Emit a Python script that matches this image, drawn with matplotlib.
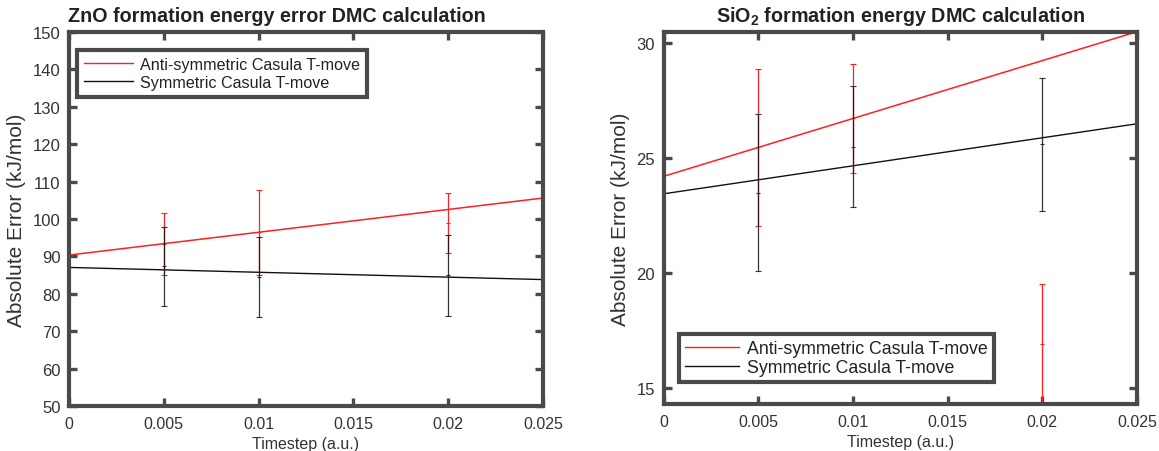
import numpy as np
import matplotlib
matplotlib.use("Agg")
import matplotlib.pyplot as plt
from matplotlib.lines import Line2D

plt.rcParams['font.family'] = ['Liberation Sans', 'DejaVu Sans']
plt.rcParams['mathtext.fontset'] = 'custom'
plt.rcParams['mathtext.rm'] = 'Liberation Sans'
plt.rcParams['mathtext.bf'] = 'Liberation Sans:bold'

# ---- data ----
timestep = [0.005, 0.01, 0.02]

zno_anti = [93.4, 96.45, 98.95]
zno_anti_err = [8.3, 11.35, 8.0]
zno_sym = [87.3, 84.4, 84.9]
zno_sym_err = [10.5, 10.7, 10.8]

sio2_anti = [25.46, 26.72, 16.91]
sio2_anti_err = [3.43, 2.38, 2.62]
sio2_sym = [23.49, 25.5, 25.6]
sio2_sym_err = [3.41, 2.63, 2.89]

# number of leading points used in the anti-symmetric fit (outlier at 0.02 left out)
anti_fit_points = 2

xticks = [0, 0.005, 0.01, 0.015, 0.02, 0.025]
xticklabels = ['0', '0.005', '0.01', '0.015', '0.02', '0.025']
zno_yticks = list(range(50, 151, 10))
sio2_yticks = [15, 20, 25, 30]
xlim = (0, 0.025)
zno_ylim = (50, 150)

labels = ['Anti-symmetric Casula T-move', 'Symmetric Casula T-move']
titles = ['ZnO formation energy error DMC calculation',
          r'SiO$_\mathbf{2}$ formation energy DMC calculation']
xlabel = 'Timestep (a.u.)'
ylabel = 'Absolute Error (kJ/mol)'

# ---- styling ----
BOX = '#4a4a4a'
TXT = '#333333'
RED = '#ff2020'
BLK = '#111111'

fig = plt.figure(figsize=(11.59, 4.52), dpi=100)
ax1 = fig.add_axes([0.0595, 0.0996, 0.409, 0.8274])
ax2 = fig.add_axes([0.5725, 0.104, 0.4085, 0.8237])

xs = np.array(timestep)
xfit = np.array(xlim)


def draw(ax, anti, anti_err, sym, sym_err):
    pa = np.polyfit(xs[:anti_fit_points], np.array(anti)[:anti_fit_points], 1)
    ps = np.polyfit(xs, np.array(sym), 1)
    ax.plot(xfit, np.polyval(pa, xfit), color=RED, lw=1.1, zorder=3, clip_on=False)
    ax.plot(xfit, np.polyval(ps, xfit), color=BLK, lw=1.0, zorder=3, clip_on=False)
    ax.errorbar(xs, anti, yerr=anti_err, fmt='_', ms=3, mew=0.8, color=RED,
                ecolor=RED, elinewidth=0.9, capsize=2.2, capthick=0.9, zorder=4,
                clip_on=False)
    ax.errorbar(xs, sym, yerr=sym_err, fmt='_', ms=3, mew=0.8, color=BLK,
                ecolor=BLK, elinewidth=0.9, capsize=2.2, capthick=0.9, zorder=5,
                alpha=0.85, clip_on=False)
    return pa, ps


draw(ax1, zno_anti, zno_anti_err, zno_sym, zno_sym_err)
pa2, ps2 = draw(ax2, sio2_anti, sio2_anti_err, sio2_sym, sio2_sym_err)

ax1.set_ylim(*zno_ylim)
ax1.set_yticks(zno_yticks)
low = min(np.array(sio2_anti) - np.array(sio2_anti_err))
high = np.polyval(pa2, xlim[1])
ax2.set_ylim(low, high)
ax2.set_yticks(sio2_yticks)

for ax in (ax1, ax2):
    ax.set_xlim(*xlim)
    ax.set_xticks(xticks)
    ax.set_xticklabels(xticklabels)
    for s in ax.spines.values():
        s.set_linewidth(3.0)
        s.set_color(BOX)
        s.set_zorder(6)
    ax.tick_params(direction='in', length=5.5, width=2.4, color=BOX,
                   top=True, right=True, labelsize=12, labelcolor=TXT, pad=6)
    ax.tick_params(axis='x', labelsize=11.5, pad=7)
    ax.set_xlabel(xlabel, fontsize=11.5, color=TXT, labelpad=4)
    ax.set_ylabel(ylabel, fontsize=15, color=TXT, labelpad=5)

ax1.set_title(titles[0], fontsize=14.2, fontweight='bold', color='#222222',
              x=0.439, pad=8)
ax2.set_title(titles[1], fontsize=14.2, fontweight='bold', color='#222222', pad=8)

handles = [Line2D([], [], color=RED, lw=1.0), Line2D([], [], color=BLK, lw=1.0)]


def legend(ax, anchor, fs, bpad, lspace):
    lg = ax.legend(handles, labels, loc='upper left', bbox_to_anchor=anchor,
                   borderaxespad=0, fontsize=fs, frameon=True, fancybox=False,
                   framealpha=1, edgecolor=BOX, handlelength=3.0,
                   handletextpad=0.45, borderpad=bpad, labelspacing=lspace)
    lg.get_frame().set_linewidth(3.0)
    for t in lg.get_texts():
        t.set_color('#222222')
    lg.set_zorder(10)


legend(ax1, (0.017, 0.953), 11.6, 0.45, 0.2)
legend(ax2, (0.033, 0.188), 12.8, 0.35, 0.1)

fig.savefig('out.png', dpi=100)
